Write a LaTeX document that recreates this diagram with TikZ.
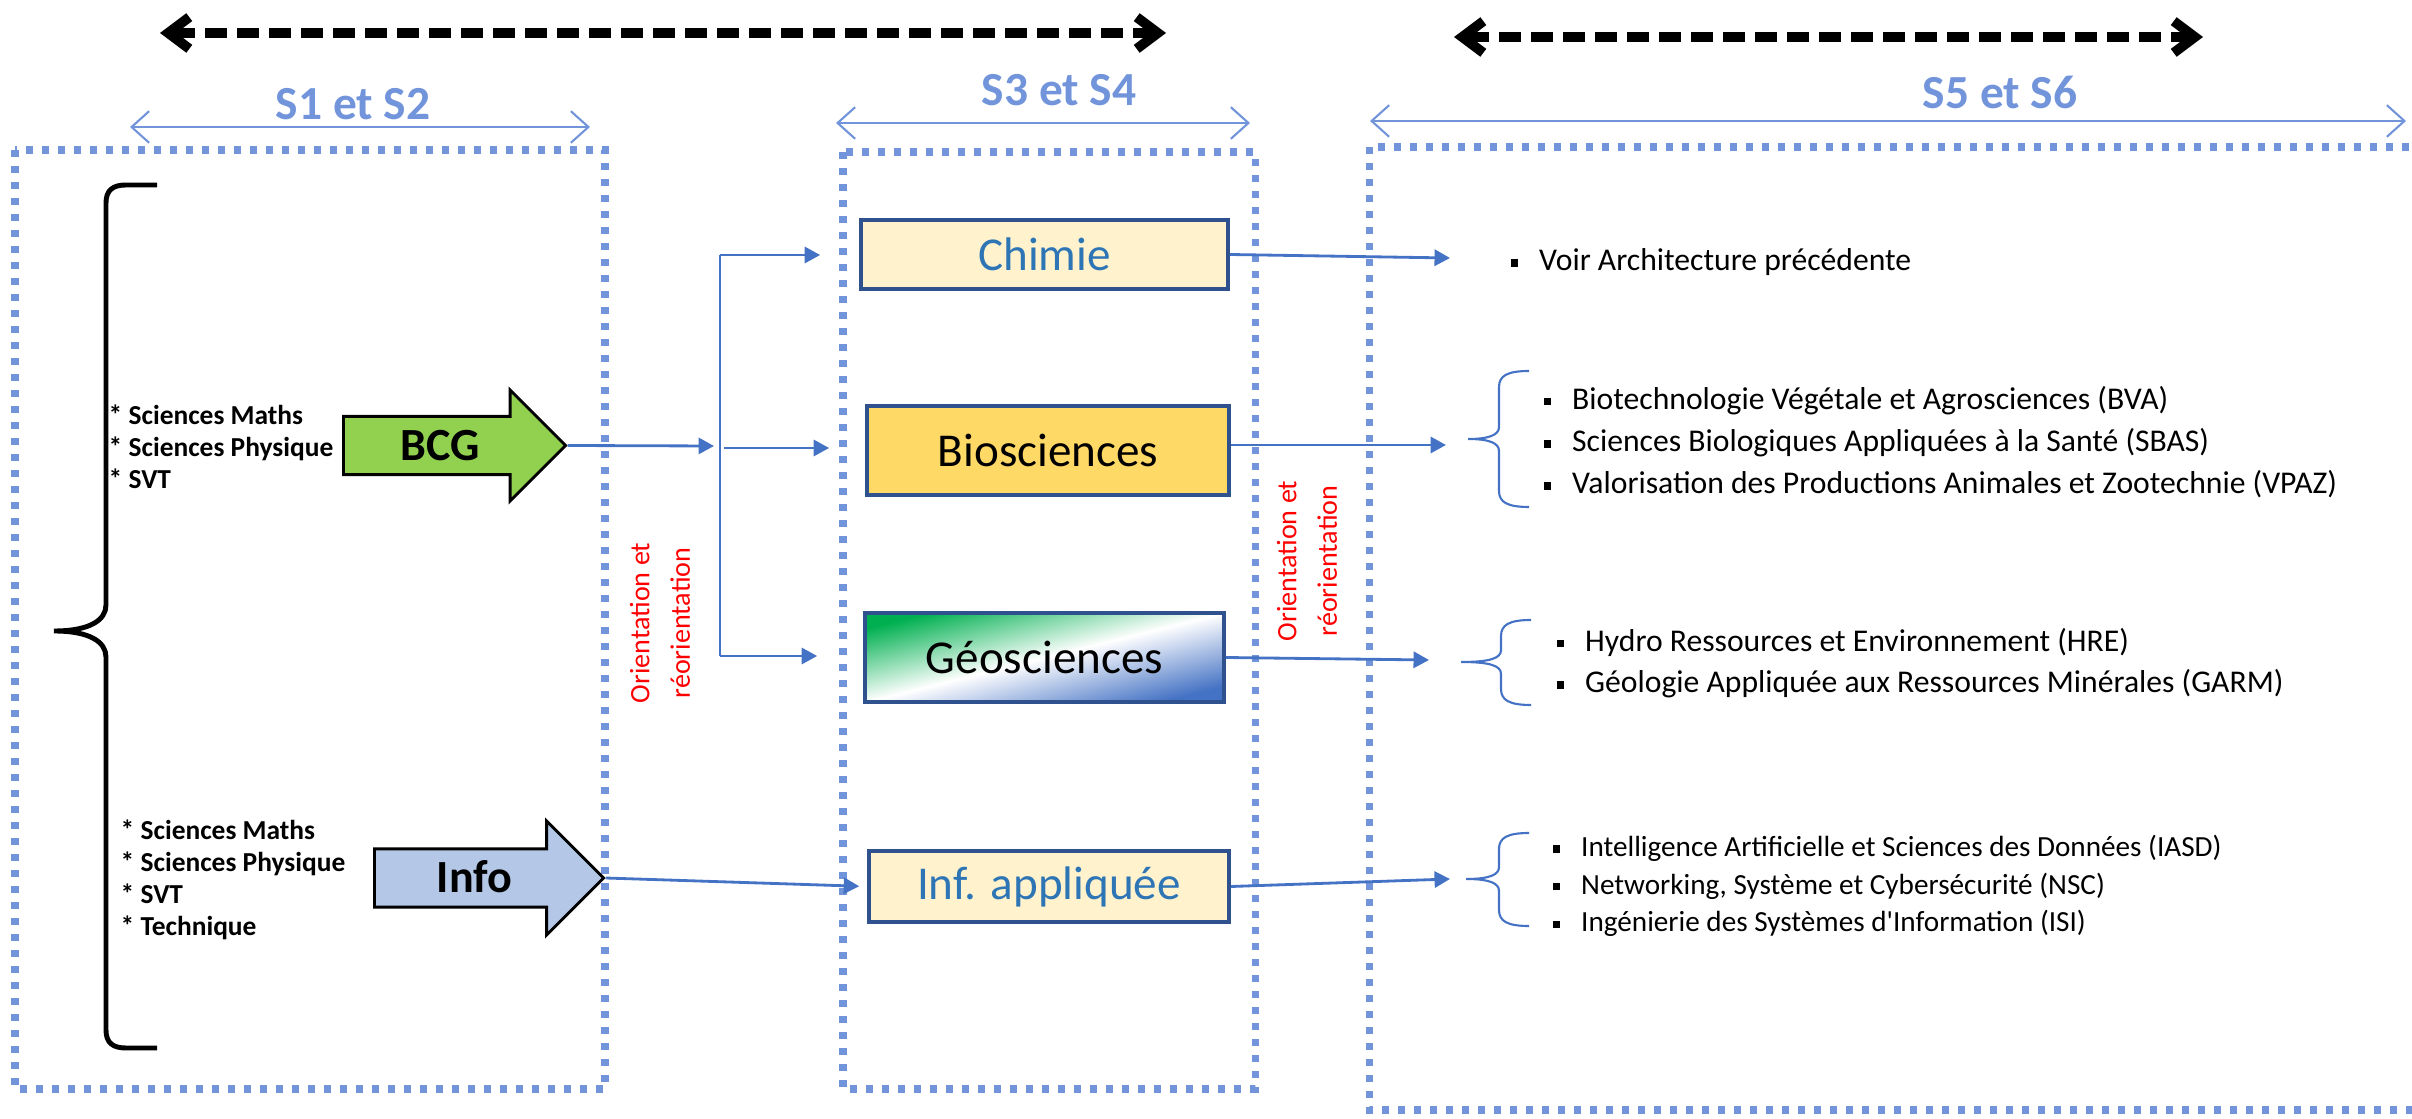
\documentclass[tikz,border=0pt]{standalone}
\usepackage{fontspec}
\setmainfont{Carlito}
\usetikzlibrary{arrows.meta,shapes.arrows}
\definecolor{dotblue}{HTML}{7294DB}
\definecolor{linkblue}{HTML}{4472C4}
\definecolor{boxedge}{HTML}{2F528F}
\definecolor{txtblue}{HTML}{2E75B6}
\definecolor{paleyel}{HTML}{FFF2CC}
\definecolor{gold}{HTML}{FFD966}
\definecolor{bcggreen}{HTML}{92D050}
\definecolor{infoblue}{HTML}{B4C7E7}
\definecolor{geogreen}{HTML}{00B050}
\newcommand{\sqb}{\rule[1.1pt]{2.1pt}{2.1pt}\hspace{6pt}}
% #1 x of the ends, #2 top, #3 y of the tip, #4 bottom, #5 depth of the tip
\newcommand{\bbrace}[5]{%
  \draw[brc] (#1,#2) .. controls (#1-22,#2) and (#1-30,#2+5) .. (#1-30,#2+16)
    -- (#1-30,#3-12) .. controls (#1-30,#3-4) and (#1-40,#3) .. (#1-#5,#3)
    .. controls (#1-40,#3) and (#1-30,#3+4) .. (#1-30,#3+12)
    -- (#1-30,#4-16) .. controls (#1-30,#4-5) and (#1-22,#4) .. (#1,#4);}

\begin{document}
\begin{tikzpicture}[x=0.01cm,y=-0.01cm,
	dotbox/.style={draw=dotblue,line width=2pt,dash pattern=on 2pt off 2.55pt},
	semarrow/.style={draw=dotblue,line width=0.6pt,{Straight Barb[length=5pt,width=9pt]}-{Straight Barb[length=5pt,width=9pt]}},
	semlabel/.style={text=dotblue,inner sep=0pt,font=\fontsize{13.5}{16}\selectfont\bfseries},
	bigarrow/.style={draw=black,line width=2.8pt,dash pattern=on 6.3pt off 2.8pt,{Straight Barb[length=6pt,width=9pt]}-{Straight Barb[length=6pt,width=9pt]}},
	prog/.style={draw=boxedge,line width=1pt,inner sep=0pt,font=\fontsize{13.4}{16}\selectfont},
	fatarrow/.style={single arrow,draw=black,line width=0.85pt,anchor=tail,single arrow tip angle=90,text height=8.5pt,text depth=0pt,inner ysep=3.6pt,font=\fontsize{13.1}{15}\selectfont\bfseries},
	leftlist/.style={align=left,inner sep=0pt,anchor=west,font=\fontsize{7.8}{9.1}\selectfont\bfseries},
	rlist/.style={align=left,inner sep=0pt,anchor=west,font=\fontsize{9}{12}\selectfont},
	orient/.style={rotate=90,align=center,text=red,inner sep=0pt,font=\fontsize{8}{11.5}\selectfont},
	conn/.style={draw=linkblue,line width=0.8pt,-{Triangle[length=4.4pt,width=4.6pt]}},
	connline/.style={draw=linkblue,line width=0.8pt},
	brc/.style={draw=linkblue,line width=0.6pt}]
	\useasboundingbox (0,0) rectangle (2412,1119);

	\draw[dotbox] (15,150) rectangle (605,1089);
	\draw[dotbox] (843,152) rectangle (1255,1089);
	\draw[dotbox] (1369,147) rectangle (2430,1110);

	\coordinate (d1a) at (160,33);
	\coordinate (d1b) at (1166,33);
	\coordinate (d2a) at (1454,37);
	\coordinate (d2b) at (2203,37);
	\draw[bigarrow] (d1a) -- (d1b);
	\draw[bigarrow] (d2a) -- (d2b);

	\coordinate (s1a) at (130,127);
	\coordinate (s1b) at (590,127);
	\coordinate (s3a) at (836,123);
	\coordinate (s3b) at (1250,123);
	\coordinate (s5a) at (1370,121);
	\coordinate (s5b) at (2406,121);
	\draw[semarrow] (s1a) -- (s1b);
	\draw[semarrow] (s3a) -- (s3b);
	\draw[semarrow] (s5a) -- (s5b);
	\node[semlabel] (sem12) at (353,104) {S1 et S2};
	\node[semlabel] (sem34) at (1059,90) {S3 et S4};
	\node[semlabel] (sem56) at (2000,92) {S5 et S6};

	\draw[line width=1.4pt] (157,185) -- (126,185) .. controls (113,185) and (106,190) .. (106,203)
		-- (106,605) .. controls (106,620) and (90,631) .. (54,631)
		.. controls (90,631) and (106,642) .. (106,657)
		-- (106,1030) .. controls (106,1043) and (113,1048) .. (126,1048) -- (157,1048);

	\node[leftlist] (bcglist) at (108,447) {* Sciences Maths\\* Sciences Physique\\* SVT};
	\node[leftlist] (infolist) at (120,879.5) {* Sciences Maths\\* Sciences Physique\\* SVT\\* Technique};

	\node[fatarrow,fill=bcggreen,minimum height=2.22cm,single arrow head extend=0.265cm] (bcg) at (342,445.5) {BCG};
	\node[fatarrow,fill=infoblue,minimum height=2.29cm,single arrow head extend=0.28cm] (info) at (373,878) {Info};

	\node[prog,fill=paleyel,text=txtblue,minimum width=3.67cm,minimum height=0.69cm] (chimie) at (1044.5,254.5) {Chimie};
	\node[prog,fill=gold,minimum width=3.62cm,minimum height=0.89cm] (bio) at (1048,450.5) {Biosciences};
	\node[prog,top color=geogreen,bottom color=linkblue,middle color=white,shading angle=14,minimum width=3.59cm,minimum height=0.89cm] (geo) at (1044.5,657.5) {Géosciences};
	\node[prog,fill=paleyel,text=txtblue,minimum width=3.6cm,minimum height=0.71cm] (inf) at (1049,886.5) {Inf. appliquée};

	\node[orient] (or1) at (660,623) {Orientation et\\réorientation};
	\node[orient] (or2) at (1307,561) {Orientation et\\réorientation};

	\coordinate (brin) at (714,446);
	\coordinate (brtop) at (720,255);
	\coordinate (brmid) at (724,448);
	\coordinate (brbot) at (720,656);
	\draw[conn] (bcg.tip) -- (brin);
	\draw[connline] (brtop) -- (brbot);
	\draw[conn,shorten >=0.39cm] (brtop) -- (brtop -| chimie.west);
	\draw[conn,shorten >=0.36cm] (brmid) -- (brmid -| bio.west);
	\draw[conn,shorten >=0.46cm] (brbot) -- (brbot -| geo.west);
	\draw[conn,shorten >=0.08cm] (info.tip) -- (inf.west);

	\coordinate (t1) at (1450,258);
	\coordinate (t2) at (1446,445);
	\coordinate (t3) at (1429,660);
	\coordinate (t4) at (1450,879);
	\draw[conn] (chimie.east) -- (t1);
	\draw[conn] (bio.east |- t2) -- (t2);
	\draw[conn] (geo.east) -- (t3);
	\draw[conn] (inf.east) -- (t4);

	\node[rlist] (voir) at (1510,262) {\sqb Voir Architecture précédente};
	\bbrace{1529}{371}{439}{507}{61}
	\node[rlist] (biolist) at (1543,442) {\sqb Biotechnologie Végétale et Agrosciences (BVA)\\\sqb Sciences Biologiques Appliquées à la Santé (SBAS)\\\sqb Valorisation des Productions Animales et Zootechnie (VPAZ)};
	\bbrace{1531}{620}{662}{705}{70}
	\node[rlist,font=\fontsize{9}{11.7}\selectfont] (geolist) at (1556,663) {\sqb Hydro Ressources et Environnement (HRE)\\\sqb Géologie Appliquée aux Ressources Minérales (GARM)};
	\bbrace{1529}{833}{879}{926}{63}
	\node[rlist,font=\fontsize{8.3}{10.7}\selectfont] (inflist) at (1552,886) {\sqb Intelligence Artificielle et Sciences des Données (IASD)\\\sqb Networking, Système et Cybersécurité (NSC)\\\sqb Ingénierie des Systèmes d\textquotesingle Information (ISI)};
\end{tikzpicture}
\end{document}
